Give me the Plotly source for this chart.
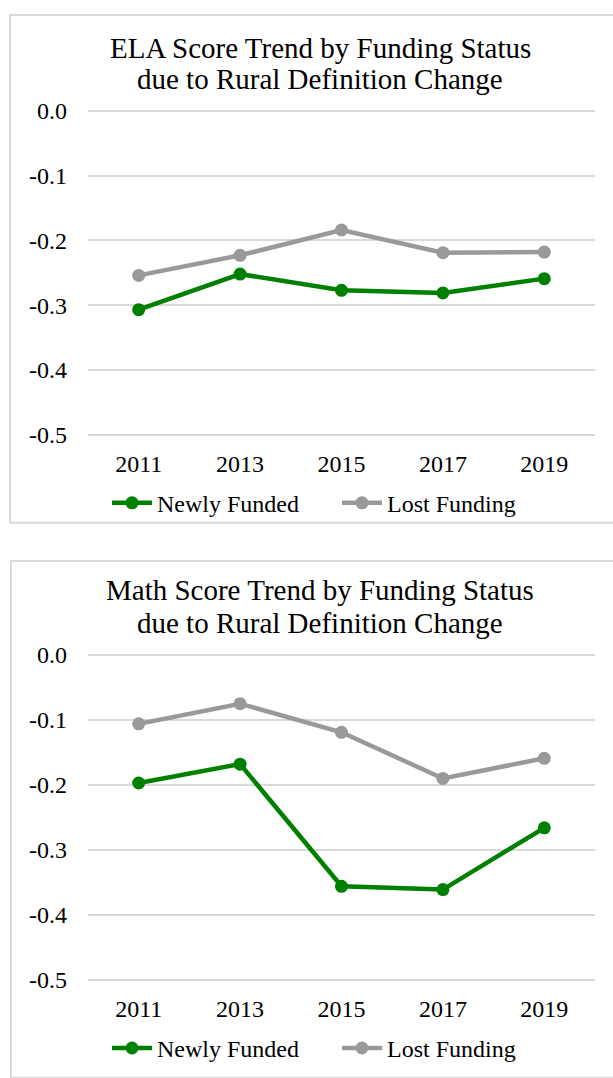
import plotly.graph_objects as go

# Survey years on the category axis
years = ["2011", "2013", "2015", "2017", "2019"]

# ELA average scores
ela_newly_funded = [-0.307, -0.252, -0.277, -0.281, -0.259]
ela_lost_funding = [-0.254, -0.223, -0.184, -0.219, -0.218]

# Math average scores
math_newly_funded = [-0.197, -0.168, -0.356, -0.361, -0.266]
math_lost_funding = [-0.106, -0.075, -0.119, -0.190, -0.159]

# Value-axis ticks
y_ticks = [0.0, -0.1, -0.2, -0.3, -0.4, -0.5]
y_tick_labels = ["0.0", "-0.1", "-0.2", "-0.3", "-0.4", "-0.5"]

series_names = ["Newly Funded", "Lost Funding"]
titles = [
    ["ELA Score Trend by Funding Status", "due to Rural Definition Change"],
    ["Math Score Trend by Funding Status", "due to Rural Definition Change"],
]

W, H = 613, 1078
FONT = "Liberation Serif"
GREEN = "#008000"
GRAY = "#999999"
GRID = "#d9d9d9"
PAD = 0.002  # keeps the 0.0 and -0.5 gridlines inside the plot area


def py(px):
    """Convert a pixel row (from the top) to paper y."""
    return 1 - px / H


def px_x(px):
    return px / W


fig = go.Figure()

panels = [
    dict(data=(ela_newly_funded, ela_lost_funding), xa="x", ya="y", legend="legend"),
    dict(data=(math_newly_funded, math_lost_funding), xa="x2", ya="y2", legend="legend2"),
]

for p in panels:
    for name, vals, color in zip(series_names, p["data"], [GREEN, GRAY]):
        fig.add_trace(go.Scatter(
            x=years, y=vals, name=name, mode="lines+markers",
            line=dict(color=color, width=4.5),
            marker=dict(color=color, size=13),
            xaxis=p["xa"], yaxis=p["ya"], legend=p["legend"],
            showlegend=True, hoverinfo="x+y+name",
        ))

axis_common_x = dict(
    type="category", range=[-0.5, 4.5], showgrid=False, zeroline=False,
    showline=False, ticks="", tickfont=dict(family=FONT, size=24, color="#000"),
    ticklabelstandoff=11, fixedrange=True,
)
axis_common_y = dict(
    range=[-0.5 - PAD, 0.0 + PAD], tickvals=y_ticks, ticktext=y_tick_labels,
    showgrid=True, gridcolor=GRID, gridwidth=1.5, zeroline=False,
    showline=False, ticks="", tickfont=dict(family=FONT, size=24, color="#000"),
    ticklabelstandoff=20, fixedrange=True,
)

x_dom = [px_x(88), px_x(595)]


def y_domain(top_px, bottom_px):
    per_unit = (bottom_px - top_px) / 0.5
    return [py(bottom_px + PAD * per_unit), py(top_px - PAD * per_unit)]


legend_common = dict(
    orientation="h", xanchor="center", yanchor="middle",
    font=dict(family=FONT, size=24, color="#000"), bgcolor="rgba(0,0,0,0)",
    itemwidth=40, tracegroupgap=0, entrywidth=175,
)

fig.update_layout(
    width=W, height=H,
    margin=dict(l=0, r=0, t=0, b=0),
    paper_bgcolor="white", plot_bgcolor="white",
    font=dict(family=FONT, size=24, color="#000"),
    xaxis=dict(axis_common_x, domain=x_dom, anchor="y"),
    yaxis=dict(axis_common_y, domain=y_domain(102, 433), anchor="x"),
    xaxis2=dict(axis_common_x, domain=x_dom, anchor="y2"),
    yaxis2=dict(axis_common_y, domain=y_domain(658, 990), anchor="x2"),
    legend=dict(legend_common, x=px_x(337), y=py(503)),
    legend2=dict(legend_common, x=px_x(337), y=py(1060)),
    showlegend=True,
)

# Chart-area frames
fig.add_shape(type="rect", xref="paper", yref="paper",
              x0=px_x(10), x1=px_x(625), y0=py(523), y1=py(4),
              line=dict(color=GRID, width=2), fillcolor="rgba(0,0,0,0)", layer="below")
fig.add_shape(type="rect", xref="paper", yref="paper",
              x0=px_x(11), x1=px_x(625), y0=py(1090), y1=py(562),
              line=dict(color=GRID, width=2), fillcolor="rgba(0,0,0,0)", layer="below")

# Two-line chart titles
title_rows = [(38, 69), (592, 625)]
for (l1, l2), (r1, r2) in zip(titles, title_rows):
    for text, row in ((l1, r1), (l2, r2)):
        fig.add_annotation(
            x=px_x(320), y=py(row), xref="paper", yref="paper",
            text=text, showarrow=False, xanchor="center", yanchor="middle",
            font=dict(family=FONT, size=29, color="#000"),
        )

fig.write_html("out.html")
